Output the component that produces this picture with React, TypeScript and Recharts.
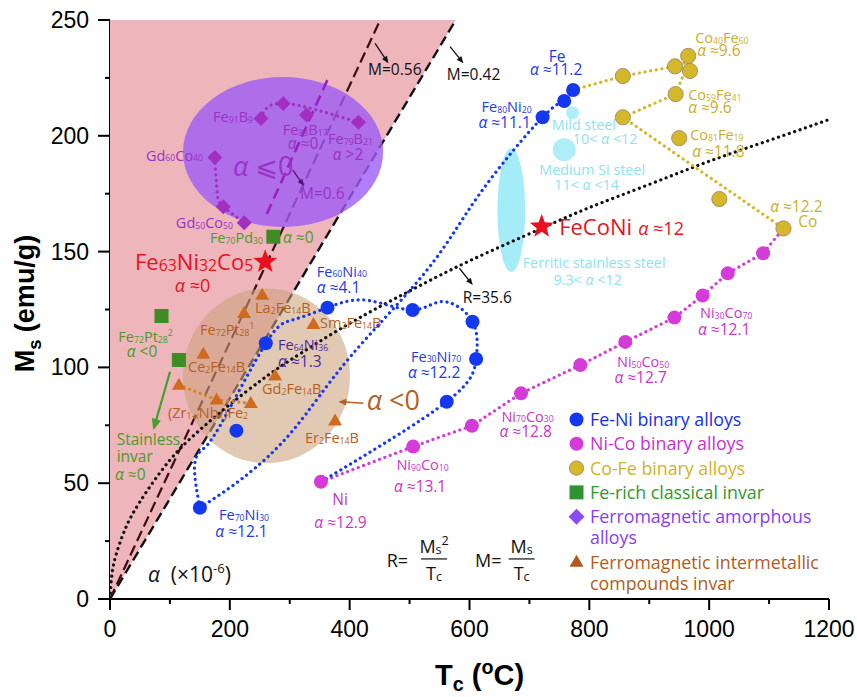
import React from 'react';
import { ScatterChart, Scatter, XAxis, YAxis, Legend } from 'recharts';

// ---------- axes ----------
const X_TICKS = [0, 100, 200, 300, 400, 500, 600, 700, 800, 900, 1000, 1100, 1200];
const Y_TICKS = [0, 25, 50, 75, 100, 125, 150, 175, 200, 225, 250];

// ---------- series (Tc in °C, Ms in emu/g) ----------
const feNiPoints = [
  { x: 773, y: 219.8 }, { x: 758, y: 215 }, { x: 722, y: 208 }, { x: 363, y: 125.8 },
  { x: 505, y: 124.8 }, { x: 605, y: 119.7 }, { x: 611, y: 103.6 }, { x: 562, y: 85.2 },
  { x: 260, y: 110.4 }, { x: 211, y: 72.7 }, { x: 150, y: 39.4 },
];
const feNiLoopPath = [
  { x: 150, y: 39.4 }, { x: 141, y: 57 }, { x: 153, y: 64.3 }, { x: 184, y: 75 },
  { x: 260, y: 110.4 }, { x: 305, y: 120.5 }, { x: 363, y: 125.8 }, { x: 428, y: 129 },
  { x: 505, y: 124.8 }, { x: 556, y: 128.4 }, { x: 605, y: 119.7 }, { x: 611, y: 103.6 },
  { x: 562, y: 85.2 }, { x: 352, y: 50.6 },
];
const feNiMainPath = [
  { x: 150, y: 39.4 }, { x: 222, y: 52.3 }, { x: 306, y: 73 }, { x: 401, y: 104.6 },
  { x: 529, y: 142 }, { x: 618, y: 175.3 }, { x: 722, y: 208 }, { x: 758, y: 215 }, { x: 773, y: 219.8 },
];
const niCoPoints = [
  { x: 352, y: 50.6 }, { x: 506, y: 65.8 }, { x: 604, y: 74.8 }, { x: 686, y: 88.8 },
  { x: 785, y: 101 }, { x: 860, y: 111 }, { x: 942, y: 121.5 }, { x: 989, y: 131 },
  { x: 1031, y: 140.6 }, { x: 1090, y: 149.3 },
];
const niCoPath = [...niCoPoints, { x: 1124, y: 160 }];
const coFePoints = [
  { x: 856, y: 225.8 }, { x: 943, y: 230 }, { x: 968, y: 228 }, { x: 965, y: 234.5 },
  { x: 944, y: 218 }, { x: 856, y: 208 }, { x: 950, y: 199 }, { x: 1017, y: 172.7 }, { x: 1124, y: 160 },
];
const coFePath = [
  { x: 773, y: 219.8 }, { x: 856, y: 225.8 }, { x: 943, y: 230 }, { x: 966, y: 232 },
  { x: 944, y: 218 }, { x: 856, y: 208 }, { x: 1124, y: 160 },
];
const amorphousPoints = [
  { x: 252, y: 207.5 }, { x: 289, y: 214 }, { x: 328, y: 209 }, { x: 414.6, y: 205.8 },
  { x: 175, y: 190.6 }, { x: 189, y: 169.4 }, { x: 224, y: 162.5 },
];
const feBPath = [{ x: 252, y: 207.5 }, { x: 289, y: 214 }, { x: 414.6, y: 205.8 }];
const gdCoPath = [{ x: 175, y: 190.6 }, { x: 179, y: 175.2 }, { x: 189, y: 169.4 }, { x: 224, y: 162.5 }];
const intermetallicPoints = [
  { x: 254, y: 131.3 }, { x: 223.7, y: 123.4 }, { x: 339.5, y: 118.6 }, { x: 155.8, y: 105.8 },
  { x: 275.5, y: 96.4 }, { x: 115, y: 92.4 }, { x: 178, y: 86 }, { x: 235, y: 84.5 }, { x: 375.6, y: 77 },
];
const zrNbPath = [{ x: 115, y: 92.4 }, { x: 178, y: 86 }, { x: 235, y: 84.5 }];
const invarPoints = [{ x: 272.6, y: 156.4 }, { x: 86, y: 122.2 }, { x: 115, y: 103.2 }];
const starPoints = [{ x: 259, y: 145.6 }, { x: 720.5, y: 160.8 }];
const mildSteel = [{ x: 772, y: 210 }];
const mediumSiSteel = [{ x: 758, y: 194 }];

// regions (bounding corners in data units)
const ferriticBox = [{ x: 646.6, y: 194.6 }, { x: 692.8, y: 141.2 }];
const amorphousBox = [{ x: 121.9, y: 225.4 }, { x: 455.8, y: 160.6 }];
const intermetallicBox = [{ x: 121.9, y: 134.1 }, { x: 400.7, y: 58.6 }];
const pinkRegion = [{ x: 0, y: 0 }, { x: 0, y: 250 }, { x: 577, y: 250 }];

// guide lines
const lineM042 = [{ x: 0, y: 0 }, { x: 577, y: 250 }];
const lineM056 = [{ x: 0, y: 0 }, { x: 451, y: 250 }];
const lineM06 = [{ x: 261.7, y: 166.2 }, { x: 363.5, y: 224.5 }];
const curveR356 = [
  { x: 0, y: 0 }, { x: 3, y: 10 }, { x: 10, y: 19 }, { x: 25, y: 30 }, { x: 50, y: 42 },
  { x: 100, y: 60 }, { x: 150, y: 73 }, { x: 200, y: 84 }, { x: 250, y: 94 }, { x: 300, y: 103 },
  { x: 400, y: 119 }, { x: 500, y: 133 }, { x: 600, y: 146 }, { x: 720, y: 160 }, { x: 800, y: 169 },
  { x: 900, y: 179 }, { x: 1000, y: 189 }, { x: 1100, y: 198 }, { x: 1200, y: 207 },
];

const arrows = [
  { x1: 442.4, y1: 239.9, x2: 464.6, y2: 231.3, k: 'thin' },
  { x1: 567.6, y1: 238.5, x2: 589.8, y2: 231.3, k: 'thin' },
  { x1: 305, y1: 185.2, x2: 323.9, y2: 178.3, k: 'thinP' },
  { x1: 583.1, y1: 142.8, x2: 605.5, y2: 135.6, k: 'thin' },
  { x1: 422.9, y1: 84.5, x2: 381.1, y2: 85.2, k: 'brown' },
  { x1: 100.2, y1: 98.1, x2: 72.3, y2: 73, k: 'green' },
];

// text annotations, anchored at baseline in data units
const labels = [
  { x: 238.7, y: 206.1, t: 'Fe_{91}B_{9}', c: 'purpleT', s: 'n', a: 'end' },
  { x: 288.3, y: 200.3, t: 'Fe_{83}B_{17}', c: 'purpleT', s: 'n' },
  { x: 322.2, y: 194.3, t: 'α ≈0', c: 'purpleT', s: 'a', a: 'middle' },
  { x: 363.9, y: 196.5, t: 'Fe_{79}B_{21}', c: 'purpleT', s: 'n' },
  { x: 397.3, y: 189.6, t: 'α >2', c: 'purpleT', s: 'a', a: 'middle' },
  { x: 155.3, y: 189.3, t: 'Gd_{60}Co_{40}', c: 'purpleT', s: 'n', a: 'end' },
  { x: 205.3, y: 182.6, t: 'α ⩽0', c: 'purpleT', s: 'L' },
  { x: 317.2, y: 172.7, t: 'M=0.6', c: 'purpleT', s: 'm' },
  { x: 205.3, y: 160.2, t: 'Gd_{50}Co_{50}', c: 'purpleT', s: 'n', a: 'end' },
  { x: 255.4, y: 153.8, t: 'Fe_{70}Pd_{30}', c: 'greenT', s: 'n', a: 'end' },
  { x: 288.8, y: 153.8, t: 'α ≈0', c: 'greenT', s: 'a' },
  { x: 13.9, y: 111.1, t: 'Fe_{72}Pt_{28}^{2}', c: 'greenT', s: 'n' },
  { x: 27.9, y: 104.4, t: 'α <0', c: 'greenT', s: 'a' },
  { x: 11.2, y: 66.5, t: 'Stainless', c: 'greenT', s: 'a' },
  { x: 11.2, y: 59.3, t: 'invar', c: 'greenT', s: 'a' },
  { x: 8.3, y: 51.4, t: 'α ≈0', c: 'greenT', s: 'a' },
  { x: 41.7, y: 142.1, t: 'Fe_{63}Ni_{32}Co_{5}', c: 'red', s: 'r1' },
  { x: 137.7, y: 132.7, t: 'α ≈0', c: 'red', s: 'r2', a: 'middle' },
  { x: 749.6, y: 157.2, t: 'FeCoNi', c: 'red', s: 'r1' },
  { x: 881.5, y: 157.2, t: 'α ≈12', c: 'red', s: 'r2' },
  { x: 430.7, y: 226.3, t: 'M=0.56', c: 'black', s: 'm' },
  { x: 562.1, y: 224.1, t: 'M=0.42', c: 'black', s: 'm' },
  { x: 588.8, y: 127.7, t: 'R=35.6', c: 'black', s: 'm' },
  { x: 63.4, y: 7.5, t: 'α\u00A0\u00A0(×10^{-6})', c: 'black', s: 'k' },
  { x: 746.2, y: 232.0, t: 'Fe', c: 'blueT', s: 'a', a: 'middle' },
  { x: 744.6, y: 226.3, t: 'α ≈11.2', c: 'blueT', s: 'a', a: 'middle' },
  { x: 661.9, y: 210.4, t: 'Fe_{80}Ni_{20}', c: 'blueT', s: 'n', a: 'middle' },
  { x: 658.6, y: 203.4, t: 'α ≈11.1', c: 'blueT', s: 'a', a: 'middle' },
  { x: 345.1, y: 139.2, t: 'Fe_{60}Ni_{40}', c: 'blueT', s: 'n' },
  { x: 345.1, y: 132.0, t: 'α ≈4.1', c: 'blueT', s: 'a' },
  { x: 544.2, y: 102.5, t: 'Fe_{30}Ni_{70}', c: 'blueT', s: 'n', a: 'middle' },
  { x: 540.9, y: 95.4, t: 'α ≈12.2', c: 'blueT', s: 'a', a: 'middle' },
  { x: 223.7, y: 34.1, t: 'Fe_{70}Ni_{30}', c: 'blueT', s: 'n', a: 'middle' },
  { x: 219.5, y: 26.6, t: 'α ≈12.1', c: 'blueT', s: 'a', a: 'middle' },
  { x: 280.5, y: 107.5, t: 'Fe_{64}Ni_{36}', c: 'dpurple', s: 'n' },
  { x: 280.5, y: 100.3, t: 'α ≈1.3', c: 'dpurple', s: 'a' },
  { x: 737.4, y: 202.5, t: 'Mild steel', c: 'cyanT', s: 'c' },
  { x: 772.5, y: 196.5, t: '10< α <12', c: 'cyanT', s: 'c' },
  { x: 804.7, y: 183.1, t: 'Medium Si steel', c: 'cyanT', s: 'c', a: 'middle' },
  { x: 795.5, y: 176.6, t: '11< α <14', c: 'cyanT', s: 'c', a: 'middle' },
  { x: 808, y: 142.9, t: 'Ferritic stainless steel', c: 'cyanT', s: 'c', a: 'middle' },
  { x: 797.2, y: 135.6, t: '9.3< α <12', c: 'cyanT', s: 'c', a: 'middle' },
  { x: 976.6, y: 240.2, t: 'Co_{40}Fe_{60}', c: 'goldT', s: 'n' },
  { x: 980, y: 234.5, t: 'α ≈9.6', c: 'goldT', s: 'a' },
  { x: 964.9, y: 215.5, t: 'Co_{59}Fe_{41}', c: 'goldT', s: 'n' },
  { x: 964.9, y: 209.8, t: 'α ≈9.6', c: 'goldT', s: 'a' },
  { x: 968.3, y: 198.2, t: 'Co_{81}Fe_{19}', c: 'goldT', s: 'n' },
  { x: 971.6, y: 191.0, t: 'α ≈11.8', c: 'goldT', s: 'a' },
  { x: 1101.8, y: 167.2, t: 'α ≈12.2', c: 'goldT', s: 'a' },
  { x: 1148.6, y: 160.8, t: 'Co', c: 'goldT', s: 'a' },
  { x: 1028.4, y: 121.2, t: 'Ni_{30}Co_{70}', c: 'magT', s: 'n', a: 'middle' },
  { x: 1025, y: 114.0, t: 'α ≈12.1', c: 'magT', s: 'a', a: 'middle' },
  { x: 889.8, y: 100.3, t: 'Ni_{50}Co_{50}', c: 'magT', s: 'n', a: 'middle' },
  { x: 885.6, y: 93.1, t: 'α ≈12.7', c: 'magT', s: 'a', a: 'middle' },
  { x: 697, y: 76.6, t: 'Ni_{70}Co_{30}', c: 'magT', s: 'n', a: 'middle' },
  { x: 693.7, y: 70.1, t: 'α ≈12.8', c: 'magT', s: 'a', a: 'middle' },
  { x: 521.7, y: 55.7, t: 'Ni_{90}Co_{10}', c: 'magT', s: 'n', a: 'middle' },
  { x: 517.5, y: 46.3, t: 'α ≈13.1', c: 'magT', s: 'a', a: 'middle' },
  { x: 384, y: 40.6, t: 'Ni', c: 'magT', s: 'a', a: 'middle' },
  { x: 384.8, y: 30.5, t: 'α ≈12.9', c: 'magT', s: 'a', a: 'middle' },
  { x: 242.1, y: 123.4, t: 'La_{2}Fe_{14}B', c: 'brownT', s: 'n' },
  { x: 350.6, y: 116.9, t: 'Sm_{2}Fe_{14}B', c: 'brownT', s: 'n' },
  { x: 150.3, y: 114.0, t: 'Fe_{72}Pt_{28}^{1}', c: 'brownT', s: 'n' },
  { x: 130.2, y: 98.1, t: 'Ce_{2}Fe_{14}B', c: 'brownT', s: 'n' },
  { x: 253.8, y: 88.5, t: 'Gd_{2}Fe_{14}B', c: 'brownT', s: 'n' },
  { x: 96.8, y: 78.0, t: '(Zr_{1-x}Nb_{x})Fe_{2}', c: 'brownT', s: 'n' },
  { x: 428.5, y: 81.6, t: 'α <0', c: 'brownT', s: 'L' },
  { x: 325.5, y: 67.2, t: 'Er_{2}Fe_{14}B', c: 'brownT', s: 'n' },
  { x: 461.8, y: 13.95, t: 'R=', c: 'black', s: 'q' },
  { x: 609.3, y: 13.95, t: 'M=', c: 'black', s: 'q' },
];
const fractions = [
  { x: 540.9, y: 17.3, num: 'M_{s}^{2}', den: 'T_{c}' },
  { x: 687, y: 17.3, num: 'M_{s}', den: 'T_{c}' },
];

const legendItems = [
  { lines: ['Fe-Ni binary alloys'], m: 'circle', c: 'blue', tc: '#1530E6' },
  { lines: ['Ni-Co binary alloys'], m: 'circle', c: 'mag', tc: '#CC2FD0' },
  { lines: ['Co-Fe binary alloys'], m: 'circleO', c: 'gold', tc: '#CFB22C' },
  { lines: ['Fe-rich classical invar'], m: 'square', c: 'greenL', tc: '#2E9A2E' },
  { lines: ['Ferromagnetic amorphous', 'alloys'], m: 'diamond', c: 'purpleL', tc: '#8A3CF0' },
  { lines: ['Ferromagnetic intermetallic', 'compounds invar'], m: 'triangle', c: 'brownL', tc: '#B05C1C' },
];

// ---------- styles ----------
const FONT = '"Open Sans", "Noto Sans", "DejaVu Sans", sans-serif';
const AXIS_FONT = '"Liberation Sans", Arial, sans-serif';
const COL: Record<string, string> = {
  blue: '#1437F0', blueT: '#1C3BE2', mag: '#D43BD8', magT: '#C836C8', gold: '#D4B82A', goldT: '#CBAE2C',
  green: '#3F8C24', greenT: '#4C9A2A', greenL: '#2E9430', purple: '#A22FC2', purpleT: '#9A32C4', purpleL: '#8A4CF2',
  brown: '#D06A1E', brownT: '#B5601C', brownL: '#B5561A', red: '#E3141E', cyan: '#A6EEF8', cyanT: '#8FE2F0',
  black: '#111111', dpurple: '#4B2A9E',
};
const SIZES: Record<string, { fs: number; sub?: number }> = {
  n: { fs: 14.5, sub: 0.6 }, a: { fs: 15.5 }, c: { fs: 14.3 }, m: { fs: 15.5 }, L: { fs: 27 },
  r1: { fs: 22, sub: 0.72 }, r2: { fs: 18 }, k: { fs: 21 }, q: { fs: 18 },
};

function rich(t: string, fs: number, subR = 0.62, subDy = 0.06, supDy = -0.42) {
  const parts = t.split(/(_\{[^}]*\}|\^\{[^}]*\}|α)/).filter((s) => s !== '');
  let cur = 0;
  return parts.map((p, i) => {
    let off = 0;
    let size = fs;
    let txt = p;
    let italic = false;
    if (p.startsWith('_{')) { off = fs * subDy; size = fs * subR; txt = p.slice(2, -1); }
    else if (p.startsWith('^{')) { off = fs * supDy; size = fs * subR; txt = p.slice(2, -1); }
    else if (p === 'α') italic = true;
    const dy = off - cur;
    cur = off;
    return (
      <tspan key={i} dy={dy} fontSize={size} fontStyle={italic ? 'italic' : undefined}>{txt}</tspan>
    );
  });
}

const none = () => <g />;
const circle = (r: number, fill: string, stroke?: string) => (p: any) => (
  <circle cx={p.cx} cy={p.cy} r={r} fill={fill} stroke={stroke || 'none'} strokeWidth={stroke ? 0.9 : 0} />
);
const square = (s: number, fill: string) => (p: any) => (
  <rect x={p.cx - s / 2} y={p.cy - s / 2} width={s} height={s} fill={fill} />
);
const diamond = (h: number, fill: string) => (p: any) => (
  <polygon points={`${p.cx},${p.cy - h} ${p.cx + h},${p.cy} ${p.cx},${p.cy + h} ${p.cx - h},${p.cy}`} fill={fill} />
);
const triangle = (w: number, h: number, fill: string) => (p: any) => (
  <polygon points={`${p.cx},${p.cy - h * 0.6} ${p.cx + w / 2},${p.cy + h * 0.4} ${p.cx - w / 2},${p.cy + h * 0.4}`} fill={fill} />
);
const starPts = (cx: number, cy: number, R: number) => {
  const pts: string[] = [];
  for (let i = 0; i < 10; i++) {
    const rr = i % 2 === 0 ? R : R * 0.42;
    const ang = -Math.PI / 2 + (i * Math.PI) / 5;
    pts.push(`${cx + rr * Math.cos(ang)},${cy + rr * Math.sin(ang)}`);
  }
  return pts.join(' ');
};
const star = (R: number, fill: string) => (p: any) => <polygon points={starPts(p.cx, p.cy, R)} fill={fill} />;

const dotted = (color: string) => ({
  stroke: color, strokeWidth: 3.2, strokeDasharray: '0.1 5.6', strokeLinecap: 'round' as const, fill: 'none',
});
const dashed = (color: string, w = 2.4, dash = '10 5') => ({ stroke: color, strokeWidth: w, strokeDasharray: dash, fill: 'none' });

const polygonLine = (fill: string) => (p: any) => (
  <polygon points={p.points.map((q: any) => `${q.x},${q.y}`).join(' ')} fill={fill} stroke="none" />
);
const ellipseLine = (fill: string, opacity: number) => (p: any) => {
  const [a, b] = p.points;
  return (
    <ellipse cx={(a.x + b.x) / 2} cy={(a.y + b.y) / 2} rx={Math.abs(b.x - a.x) / 2} ry={Math.abs(b.y - a.y) / 2}
      fill={fill} fillOpacity={opacity} stroke="none" />
  );
};
const ARROW: Record<string, { c: string; w: number; h: number }> = {
  thin: { c: '#111', w: 1.3, h: 7 }, thinP: { c: '#5A1070', w: 1.3, h: 7 },
  brown: { c: '#B5601C', w: 1.6, h: 8 }, green: { c: '#3FA02A', w: 2.2, h: 11 },
};
const arrowLine = (k: string) => (p: any) => {
  const st = ARROW[k];
  const [a, b] = p.points;
  const dx = b.x - a.x;
  const dy = b.y - a.y;
  const L = Math.hypot(dx, dy) || 1;
  const ux = dx / L;
  const uy = dy / L;
  const bx = b.x - ux * st.h;
  const by = b.y - uy * st.h;
  const px = -uy * st.h * 0.42;
  const py = ux * st.h * 0.42;
  return (
    <g>
      <line x1={a.x} y1={a.y} x2={bx + ux * 2} y2={by + uy * 2} stroke={st.c} strokeWidth={st.w} />
      <polygon points={`${b.x},${b.y} ${bx + px},${by + py} ${bx - px},${by - py}`} fill={st.c} />
    </g>
  );
};

const labelShape = (p: any) => {
  const d = p.payload || p;
  const st = SIZES[d.s || 'n'];
  return (
    <text x={p.cx} y={p.cy} textAnchor={d.a || 'start'} fontFamily={FONT} fontSize={st.fs} fill={COL[d.c]}>
      {rich(d.t, st.fs, st.sub || 0.62)}
    </text>
  );
};
const fracShape = (p: any) => {
  const d = p.payload || p;
  return (
    <g fontFamily={FONT} fill="#111">
      <text x={p.cx} y={p.cy - 6} textAnchor="middle" fontSize={18}>{rich(d.num, 18, 0.7, 0.08, -0.45)}</text>
      <line x1={p.cx - 13} x2={p.cx + 13} y1={p.cy} y2={p.cy} stroke="#111" strokeWidth={1.2} />
      <text x={p.cx} y={p.cy + 21} textAnchor="middle" fontSize={18}>{rich(d.den, 18, 0.7, 0.08)}</text>
    </g>
  );
};

const XTick = (p: any) => {
  const v = p.payload.value;
  const major = v % 200 === 0;
  return (
    <g>
      <line x1={p.x} x2={p.x} y1={p.y} y2={p.y + (major ? 11 : 5)} stroke="#000" strokeWidth={2} />
      {major && (
        <text x={p.x} y={p.y + 38} textAnchor="middle" fontFamily={AXIS_FONT} fontSize={23} fill="#000">{v}</text>
      )}
    </g>
  );
};
const YTick = (p: any) => {
  const v = p.payload.value;
  const major = v % 50 === 0;
  return (
    <g>
      <line x1={p.x - (major ? 12 : 5)} x2={p.x} y1={p.y} y2={p.y} stroke="#000" strokeWidth={2} />
      {major && (
        <text x={p.x - 21} y={p.y + 8} textAnchor="end" fontFamily={AXIS_FONT} fontSize={23} fill="#000">{v}</text>
      )}
    </g>
  );
};
const XTitle = (p: any) => {
  const vb = p.viewBox || { x: 110, y: 599, width: 719 };
  return (
    <text x={vb.x + 325} y={vb.y + 86} fontFamily={AXIS_FONT} fontWeight="bold" fontSize={29} fill="#000">
      {rich('T_{c} (^{o}C)', 29, 0.68, 0.2, -0.38)}
    </text>
  );
};
const YTitle = (p: any) => {
  const vb = p.viewBox || { x: 0, y: 20, height: 579 };
  const cx = vb.x + 34;
  const cy = vb.y + vb.height / 2 - 6;
  return (
    <text transform={`translate(${cx},${cy}) rotate(-90)`} textAnchor="middle" fontFamily={AXIS_FONT}
      fontWeight="bold" fontSize={27} fill="#000">
      {rich('M_{s} (emu/g)', 27, 0.68, 0.25)}
    </text>
  );
};

const legendMarker = (m: string, c: string, x: number, y: number) => {
  const p = { cx: x, cy: y };
  if (m === 'circle') return circle(7, c)(p);
  if (m === 'circleO') return circle(7.2, c, '#A08870')(p);
  if (m === 'square') return square(14, c)(p);
  if (m === 'diamond') return diamond(8, c)(p);
  return triangle(14, 12, c)(p);
};
const renderLegend = () => {
  let base = 20;
  const rows: React.ReactNode[] = [];
  legendItems.forEach((it, i) => {
    rows.push(<g key={'m' + i}>{legendMarker(it.m, COL[it.c], 8.5, base - 6.5)}</g>);
    it.lines.forEach((ln, j) => {
      rows.push(
        <text key={`t${i}-${j}`} x={22} y={base + j * 21} fontFamily={FONT} fontSize={17.8} fill={it.tc}>{ln}</text>
      );
    });
    base += 24.3 + (it.lines.length - 1) * 21;
  });
  return <svg width={270} height={195} style={{ overflow: 'visible', display: 'block' }}>{rows}</svg>;
};

const pathSeries = (key: string, data: any[], lineProps: any, joint = 'linear') => (
  <Scatter key={key} data={data} shape={none} line={lineProps} lineJointType={joint as any} isAnimationActive={false} />
);

export default function App() {
  return (
    <div style={{ position: 'absolute', left: 0, top: 0, width: 857, height: 697, background: '#fff' }}>
      <ScatterChart width={857} height={697} margin={{ top: 20, right: 28, bottom: 0, left: 0 }}>
        <XAxis type="number" dataKey="x" domain={[0, 1200]} ticks={X_TICKS} interval={0} allowDataOverflow
          height={98} tickSize={0} tickMargin={0} tickLine={false} tick={XTick}
          axisLine={{ stroke: '#000', strokeWidth: 2 }} label={{ content: XTitle }} />
        <YAxis type="number" dataKey="y" domain={[0, 250]} ticks={Y_TICKS} interval={0} allowDataOverflow
          width={110} tickSize={0} tickMargin={0} tickLine={false} tick={YTick}
          axisLine={{ stroke: '#000', strokeWidth: 2 }} label={{ content: YTitle }} />
        <XAxis xAxisId="top" orientation="top" type="number" dataKey="x" domain={[0, 1200]} height={0}
          tick={false} tickLine={false} axisLine={{ stroke: '#000', strokeWidth: 2 }} />
        <YAxis yAxisId="right" orientation="right" type="number" dataKey="y" domain={[0, 250]} width={0}
          tick={false} tickLine={false} axisLine={{ stroke: '#000', strokeWidth: 2 }} />

        {pathSeries('pink', pinkRegion, polygonLine('#EEB5BB'))}
        {pathSeries('m042', lineM042, dashed('#111111'))}
        {pathSeries('m056', lineM056, dashed('#3D0C10', 2.2, '11 5'))}
        {pathSeries('amorphEll', amorphousBox, ellipseLine('#9D5CF6', 0.8))}
        {pathSeries('interEll', intermetallicBox, ellipseLine('#CDA27E', 0.58))}
        {pathSeries('m06', lineM06, dashed('#9A20C0', 2.6, '11 6'))}
        {pathSeries('ferritic', ferriticBox, ellipseLine('#A3ECF8', 1))}
        <Scatter data={mildSteel} shape={circle(6.5, '#AEF0FA')} isAnimationActive={false} />
        <Scatter data={mediumSiSteel} shape={circle(11.5, '#AEEEF8')} isAnimationActive={false} />
        {pathSeries('R', curveR356, dotted('#111111'), 'natural')}
        {pathSeries('coFePath', coFePath, dotted(COL.gold))}
        {pathSeries('niCoPath', niCoPath, dotted(COL.mag))}
        {pathSeries('feNiLoop', feNiLoopPath, dotted(COL.blue), 'natural')}
        {pathSeries('feNiMain', feNiMainPath, dotted(COL.blue), 'natural')}
        {pathSeries('feB', feBPath, dotted(COL.purple), 'natural')}
        {pathSeries('gdCo', gdCoPath, dotted(COL.purple), 'natural')}
        {pathSeries('zrNb', zrNbPath, dotted('#D9822E'))}

        <Scatter data={coFePoints} shape={circle(7.6, COL.gold, '#A08870')} isAnimationActive={false} />
        <Scatter data={niCoPoints} shape={circle(7, COL.mag)} isAnimationActive={false} />
        <Scatter data={feNiPoints} shape={circle(7, COL.blue)} isAnimationActive={false} />
        <Scatter data={invarPoints} shape={square(14, COL.green)} isAnimationActive={false} />
        <Scatter data={amorphousPoints} shape={diamond(7.5, COL.purple)} isAnimationActive={false} />
        <Scatter data={intermetallicPoints} shape={triangle(14, 12, COL.brown)} isAnimationActive={false} />
        <Scatter data={starPoints} shape={star(12.5, '#E8101E')} isAnimationActive={false} />

        {arrows.map((a, i) =>
          pathSeries('arrow' + i, [{ x: a.x1, y: a.y1 }, { x: a.x2, y: a.y2 }], arrowLine(a.k))
        )}
        <Scatter data={labels} shape={labelShape} isAnimationActive={false} />
        <Scatter data={fractions} shape={fracShape} isAnimationActive={false} />

        <Legend layout="vertical" align="center" verticalAlign="middle" content={renderLegend}
          wrapperStyle={{ position: 'absolute', left: 568, top: 406, width: 270, height: 195 }} />
      </ScatterChart>
    </div>
  );
}
